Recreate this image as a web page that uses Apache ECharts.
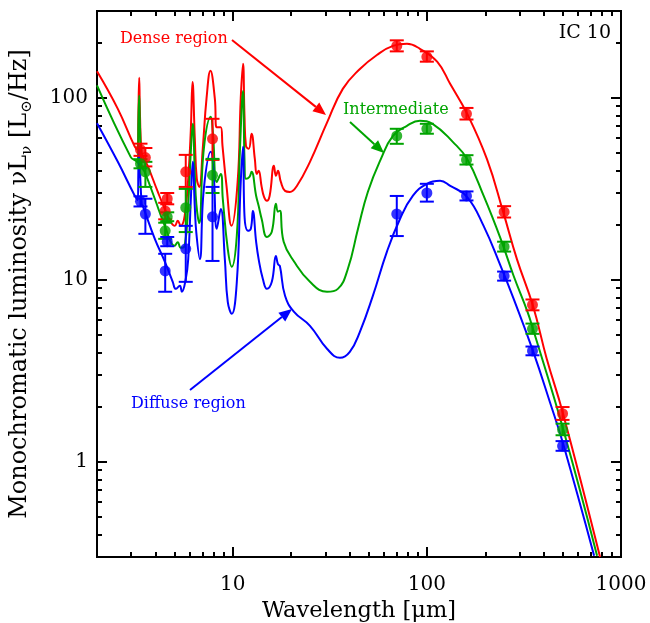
<!DOCTYPE html>
<html><head><meta charset="utf-8">
<script src="https://cdn.jsdelivr.net/npm/echarts@6/dist/echarts.min.js"></script>
<style>html,body{margin:0;padding:0;background:#fff}#c{width:650px;height:623px}</style>
</head><body><div id="c"></div>
<script>
// ---- data (wavelength in micron, nuL_nu in Lsun/Hz) ----
const pointWave = [3.35, 3.55, 4.49, 4.6, 5.73, 7.87, 70, 100, 160, 250, 350, 500];
const denseFlux = [52, 47, 23.9, 27.9, 39.2, 59.5, 193, 168, 81.7, 23.6, 7.29, 1.84];
const denseLo   = [48, 42, 21.5, 26, 32.4, 45.6, 180, 158, 76, 22, 6.8, 1.7];
const denseHi   = [56, 53, 26.5, 30, 48.6, 76.7, 207, 180, 88, 25.4, 7.8, 2.0];
const interFlux = [43.4, 39.2, 18.6, 22.2, 24.9, 37.6, 61.8, 67.6, 45.6, 15.2, 5.38, 1.5];
const interLo   = [41, 32.4, 16.8, 21, 18.3, 30, 55.9, 63.5, 43, 14.3, 5.05, 1.4];
const interHi   = [46, 44.5, 20.6, 23.5, 31.6, 46.2, 67.6, 72, 48.4, 16.2, 5.75, 1.62];
const diffFlux  = [27.0, 23.0, 11.2, 16.2, 14.8, 22.2, 23.0, 30.0, 28.9, 10.5, 4.07, 1.22];
const diffLo    = [25.3, 17.9, 8.6, 15.3, 9.75, 12.7, 17.4, 26.9, 27.3, 9.9, 3.85, 1.15];
const diffHi    = [28.8, 27.9, 13.9, 17.2, 19.8, 32.4, 28.9, 33.7, 30.6, 11.1, 4.3, 1.3];

const denseModel = [[2.0,140],[2.56,87],[3.13,54],[3.24,52],[3.27,85],[3.30,129],[3.33,80],[3.40,50],[3.65,42.3],[4.11,30.5],[4.47,24.5],[4.80,20.8],[5.03,19.8],[5.21,21.1],[5.40,19.8],[5.66,22.5],[5.90,36],[6.08,65],[6.21,122],[6.38,60],[6.53,36],[6.73,32.4],[7.01,52.5],[7.33,99],[7.68,141],[8.09,99],[8.26,69],[8.68,69],[8.86,54.5],[9.29,32.8],[9.86,19.8],[10.6,34.5],[11.0,99],[11.3,154],[11.5,80],[11.7,54.5],[12.1,52.5],[12.5,63.4],[13.0,46.2],[13.3,38.2],[13.6,39.7],[14.1,32.4],[14.5,28.6],[15.0,27.2],[15.5,29],[16.3,42.3],[16.7,37.3],[17.1,39.7],[17.7,34.5],[18.6,30.8],[19.7,30.4],[21.4,32.8],[25.0,44.5],[30.6,73],[36.9,112],[45.2,144],[55.3,172],[66.9,193],[79.0,198],[92.1,186],[113,158],[132,119],[161,82],[204,46],[247,23.7],[291,13.0],[352,7.2],[414,3.7],[503,1.84],[780,0.3]];
const interModel = [[2.0,117],[2.98,47.4],[3.17,45.1],[3.24,44],[3.27,75],[3.30,103],[3.33,70],[3.40,42],[3.52,39.2],[3.97,27.9],[4.47,19.8],[5.03,15.4],[5.21,16.1],[5.40,15.0],[5.66,15.4],[5.90,26],[6.08,50],[6.23,72],[6.38,38],[6.50,26],[6.72,20.5],[7.10,52.5],[7.71,78.6],[7.90,65],[8.28,34.5],[8.68,38.2],[8.89,27.9],[9.43,14.8],[9.89,11.8],[10.5,17.5],[10.9,52.5],[11.3,109],[11.5,46.2],[11.7,35.9],[12.2,36.8],[12.5,39.2],[13.2,29.0],[13.6,25.5],[14.1,21.6],[15.0,17.2],[15.9,18.4],[16.7,26.2],[17.1,23.7],[17.5,24.0],[18.3,16.2],[20.7,12.6],[25.0,9.75],[30.6,8.59],[34.8,8.92],[39.2,11.5],[44.2,19.1],[49.7,30.5],[58.0,46.2],[66.9,61.8],[79.0,70.2],[92.1,74.8],[107,72],[136,57.3],[161,46.2],[196,29.0],[240,16.8],[280,10.5],[330,6.67],[352,5.38],[503,1.52],[753,0.305]];
const diffModel = [[2.0,72.5],[2.56,44.5],[3.13,29.0],[3.24,27.5],[3.27,42],[3.30,53.8],[3.33,40],[3.40,26],[3.44,25.5],[3.97,16.8],[4.47,12.6],[4.91,9.75],[5.09,8.92],[5.34,9.27],[5.47,8.6],[5.73,10.1],[5.90,13],[6.08,27],[6.23,44.5],[6.38,25],[6.50,18],[6.77,13.0],[7.10,31.6],[7.71,50.5],[7.99,37.3],[8.28,19.1],[8.68,24.5],[9.11,13.0],[9.43,7.57],[9.89,6.51],[10.5,9.75],[11.0,34.5],[11.3,53.8],[11.5,22.5],[12.0,18.6],[12.4,19.1],[12.7,23.9],[13.2,16.2],[13.6,13.0],[14.3,10.1],[15.0,8.92],[15.9,9.75],[16.7,13.5],[17.1,12.2],[17.5,11.9],[18.6,8.17],[20.7,6.67],[25.0,5.59],[30.6,4.18],[35.7,3.73],[40.1,4.02],[45.2,5.18],[52.7,8.17],[62.3,14.3],[72.7,21.6],[84.8,29.0],[100,33.7],[117,35.0],[132,32.8],[161,28.6],[196,19.8],[240,11.9],[280,7.86],[352,4.07],[431,2.12],[503,1.26],[727,0.305]];

const xMajor = [10, 100, 1000];
const xMinor = [3,4,5,6,7,8,9,20,30,40,50,60,70,80,90,200,300,400,500,600,700,800,900];
const yMajor = [1, 10, 100];
const yMinor = [0.3,0.4,0.5,0.6,0.7,0.8,0.9,2,3,4,5,6,7,8,9,20,30,40,50,60,70,80,90,200,300];
const xRange = [2, 1000];
const yRange = [0.3, 300];

// ---- build ----
const L = Math.log10;
const FONT = 'DejaVu Serif';
const RED = '#ff0000', GREEN = '#00a400', BLUE = '#0000ff';
const lg = arr => arr.map(p => [L(p[0]), L(p[1])]);

function xAx(pos, ticks, len, label) {
  return {
    type: 'value', position: pos, min: L(xRange[0]), max: L(xRange[1]),
    splitLine: {show: false},
    axisLine: {show: true, onZero: false, lineStyle: {color: '#000', width: 2}},
    axisTick: {show: true, inside: true, length: len, customValues: ticks.map(L), lineStyle: {color: '#000', width: 2}},
    axisLabel: label ? {show: true, customValues: ticks.map(L), margin: 18, fontFamily: FONT, fontSize: 20, color: '#000',
      formatter: v => String(Math.round(Math.pow(10, v)))} : {show: false},
    name: label ? 'Wavelength [μm]' : '', nameLocation: 'middle', nameGap: 40,
    nameTextStyle: {fontFamily: FONT, fontSize: 22.5, color: '#000'}
  };
}
function yAx(pos, ticks, len, label) {
  return {
    type: 'value', position: pos, min: L(yRange[0]), max: L(yRange[1]),
    splitLine: {show: false},
    axisLine: {show: true, onZero: false, lineStyle: {color: '#000', width: 2}},
    axisTick: {show: true, inside: true, length: len, customValues: ticks.map(L), lineStyle: {color: '#000', width: 2}},
    axisLabel: label ? {show: true, customValues: ticks.map(L), margin: 9, fontFamily: FONT, fontSize: 20, color: '#000',
      formatter: v => String(Math.round(Math.pow(10, v)))} : {show: false},
    name: label ? '{n|Monochromatic luminosity νL}{s|ν}{n| [L}{s|⊙}{n|/Hz]}' : '',
    nameLocation: 'middle', nameGap: 62, nameRotate: 90,
    nameTextStyle: {fontFamily: FONT, fontSize: 24, color: '#000',
      rich: {n: {fontFamily: FONT, fontSize: 24, color: '#000', lineHeight: 31},
             s: {fontFamily: FONT, fontSize: 15, color: '#000', lineHeight: 31, verticalAlign: 'bottom'}}}
  };
}

function lineSeries(data, color) {
  return {type: 'line', data: lg(data), xAxisIndex: 0, yAxisIndex: 0, showSymbol: false, symbol: 'none',
    smooth: 0.45, lineStyle: {color: color, width: 2}, z: 2, animation: false, silent: true};
}
function errSeries(lo, hi, color) {
  return {type: 'custom', xAxisIndex: 0, yAxisIndex: 0, z: 3, animation: false, silent: true,
    data: pointWave.map((w, i) => [L(w), L(lo[i]), L(hi[i])]),
    encode: {x: 0, y: [1, 2]},
    renderItem: function (params, api) {
      const x = api.value(0);
      const a = api.coord([x, api.value(1)]), b = api.coord([x, api.value(2)]);
      const w = 7, st = {stroke: color, lineWidth: 2};
      return {type: 'group', children: [
        {type: 'line', shape: {x1: a[0], y1: a[1], x2: b[0], y2: b[1]}, style: st},
        {type: 'line', shape: {x1: a[0] - w, y1: a[1], x2: a[0] + w, y2: a[1]}, style: st},
        {type: 'line', shape: {x1: b[0] - w, y1: b[1], x2: b[0] + w, y2: b[1]}, style: st}
      ]};
    }};
}
function dotSeries(flux, color) {
  return {type: 'scatter', xAxisIndex: 0, yAxisIndex: 0, z: 4, animation: false, silent: true,
    symbol: 'circle', symbolSize: 11, itemStyle: {color: color},
    data: pointWave.map((w, i) => [L(w), L(flux[i])])};
}
function arrow(x1, y1, x2, y2, color) {
  const ang = Math.atan2(y2 - y1, x2 - x1), hl = 13, hw = 5.5;
  const bx = x2 - hl * Math.cos(ang), by = y2 - hl * Math.sin(ang);
  const nx = -Math.sin(ang) * hw, ny = Math.cos(ang) * hw;
  return {type: 'group', children: [
    {type: 'line', shape: {x1: x1, y1: y1, x2: bx, y2: by}, style: {stroke: color, lineWidth: 2}},
    {type: 'polygon', shape: {points: [[x2, y2], [bx + nx, by + ny], [bx - nx, by - ny]]}, style: {fill: color}}
  ]};
}
function label(text, x, y, color, size, align) {
  return {type: 'text', x: x, y: y, style: {text: text, fill: color, font: size + 'px "' + FONT + '"',
    textAlign: align || 'left', textVerticalAlign: 'middle'}};
}

const chart = echarts.init(document.getElementById('c'), null, {renderer: 'canvas'});
chart.setOption({
  backgroundColor: '#fff',
  animation: false,
  grid: {left: 97, right: 29, top: 11, bottom: 66, containLabel: false, outerBoundsMode: 'none'},
  xAxis: [xAx('bottom', xMajor, 10, true), xAx('bottom', xMinor, 5, false), xAx('top', xMajor, 10, false), xAx('top', xMinor, 5, false)],
  yAxis: [yAx('left', yMajor, 10, true), yAx('left', yMinor, 5, false), yAx('right', yMajor, 10, false), yAx('right', yMinor, 5, false)],
  series: [
    lineSeries(denseModel, RED), lineSeries(interModel, GREEN), lineSeries(diffModel, BLUE),
    errSeries(denseLo, denseHi, RED), dotSeries(denseFlux, RED),
    errSeries(interLo, interHi, GREEN), dotSeries(interFlux, GREEN),
    errSeries(diffLo, diffHi, BLUE), dotSeries(diffFlux, BLUE)
  ],
  graphic: [
    label('Dense region', 120, 39, RED, 16),
    label('Intermediate', 343, 110, GREEN, 16),
    label('Diffuse region', 131, 404, BLUE, 16),
    label('IC 10', 611, 33, '#000', 19, 'right'),
    arrow(232, 40, 326, 115, RED),
    arrow(350, 122, 384, 153, GREEN),
    arrow(190, 390, 292, 309, BLUE)
  ]
});
</script></body></html>
